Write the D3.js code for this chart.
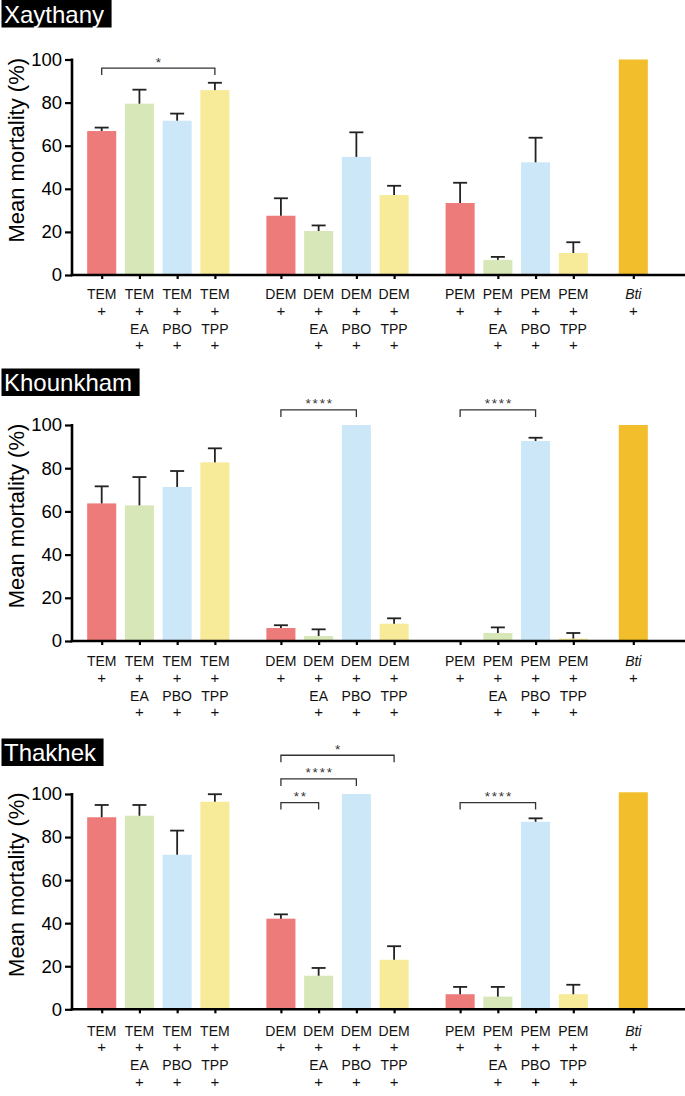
<!DOCTYPE html>
<html>
<head>
<meta charset="utf-8">
<script src="https://cdn.jsdelivr.net/npm/d3@7"></script>
<style>
  html, body { margin: 0; padding: 0; background: #fff; }
  svg { display: block; }
  text { font-family: "Liberation Sans", Arial, Helvetica, sans-serif; }
</style>
</head>
<body>
<svg id="chart" width="685" height="1096"></svg>
<script>
// ---------------- data ----------------
const categories = ["TEM","TEM+EA","TEM+PBO","TEM+TPP",
                    "DEM","DEM+EA","DEM+PBO","DEM+TPP",
                    "PEM","PEM+EA","PEM+PBO","PEM+TPP","Bti"];
const sites = ["Xaythany","Khounkham","Thakhek"];

const xaythanyMean = [66.8, 79.5, 71.6, 85.8, 27.5, 20.4, 54.8, 37.1, 33.4, 7.0, 52.3, 10.2, 100];
const xaythanyErr  = [1.6, 6.5, 3.3, 3.4, 8.1, 2.6, 11.4, 4.3, 9.4, 1.4, 11.4, 5.0, 0];

const khounkhamMean = [63.7, 62.8, 71.3, 82.7, 6.0, 2.3, 100, 8.0, 0, 3.7, 92.6, 1.1, 100];
const khounkhamErr  = [7.9, 13.1, 7.4, 6.5, 1.3, 3.1, 0, 2.5, 0, 2.6, 1.5, 2.6, 0];

const thakhekMean = [89.2, 89.9, 71.8, 96.4, 42.1, 15.6, 100, 23.0, 7.0, 5.9, 87.1, 7.0, 100.8];
const thakhekErr  = [5.7, 5.0, 11.2, 3.5, 2.0, 3.6, 0, 6.3, 3.4, 4.5, 1.6, 4.4, 0];

// significance brackets: [from, to, label, stacking level]
const xaythanyBrackets  = [["TEM","TEM+TPP","*",0]];
const khounkhamBrackets = [["DEM","DEM+PBO","****",1],["PEM","PEM+PBO","****",1]];
const thakhekBrackets   = [["DEM","DEM+EA","**",0],["DEM","DEM+PBO","****",1],
                           ["DEM","DEM+TPP","*",2],["PEM","PEM+PBO","****",0]];

const yTicks = [0, 20, 40, 60, 80, 100];
const yTitle = "Mean mortality (%)";

const panelData = [
  {site: sites[0], mean: xaythanyMean,  err: xaythanyErr,  brackets: xaythanyBrackets},
  {site: sites[1], mean: khounkhamMean, err: khounkhamErr, brackets: khounkhamBrackets},
  {site: sites[2], mean: thakhekMean,   err: thakhekErr,   brackets: thakhekBrackets}
];

// ---------------- layout ----------------
const layout = [
  {y100: 59.5, y0: 275,    titleBase: 22.5, labelOff: 24},
  {y100: 425,  y0: 641,    titleBase: 391,  labelOff: 25},
  {y100: 794,  y0: 1009.3, titleBase: 761,  labelOff: 26.5}
];

const colorByAdditive = {none: "#ED7B7A", EA: "#D7E7B7", PBO: "#CCE8F8", TPP: "#F7EA98", Bti: "#F2BE2B"};
const groupOrder = ["TEM","DEM","PEM","Bti"];
const groupGap = [0, 0.75, 0.75, 0.59];

// slot positions derived from group structure
const slots = {};
(function(){
  let s = -1, prevGroup = null;
  categories.forEach(c => {
    const g = c.split("+")[0];
    if (g !== prevGroup) { s += 1 + (prevGroup === null ? 0 : groupGap[groupOrder.indexOf(g)]); prevGroup = g; }
    else s += 1;
    slots[c] = s;
  });
})();
const maxSlot = d3.max(Object.values(slots));

const x = d3.scaleLinear().domain([0, maxSlot]).range([101.7, 633.3]);
const step = x(1) - x(0);
const barW = step * 0.77;
const axisX = 72;

function additive(c) {
  if (c === "Bti") return "Bti";
  const p = c.split("+");
  return p.length > 1 ? p[1] : "none";
}
function labelLines(c) {
  if (c === "Bti") return ["Bti", "+"];
  const p = c.split("+");
  return p.length > 1 ? [p[0], "+", p[1], "+"] : [p[0], "+"];
}

const svg = d3.select("#chart");
const font = '"Liberation Sans", Arial, Helvetica, sans-serif';

panelData.forEach((pd, pi) => {
  const L = layout[pi];
  const y = d3.scaleLinear().domain([0, 100]).range([L.y0, L.y100]);
  const g = svg.append("g");

  // title box
  const tt = g.append("text")
    .attr("x", 4).attr("y", L.titleBase)
    .attr("font-size", 24).attr("fill", "#fff")
    .text(pd.site);
  const tw = tt.node().getComputedTextLength();
  g.insert("rect", "text")
    .attr("x", 1.5).attr("y", Math.max(0, L.titleBase - 22.5))
    .attr("width", tw + 10).attr("height", L.titleBase - 22.5 < 0 ? L.titleBase + 5 : 27.5)
    .attr("fill", "#000");

  // bars
  const rows = categories.map((c, i) => ({c, v: pd.mean[i], e: pd.err[i]}));
  g.selectAll("rect.bar").data(rows.filter(d => d.v > 0)).join("rect")
    .attr("class", "bar")
    .attr("x", d => x(slots[d.c]) - barW / 2)
    .attr("width", barW)
    .attr("y", d => y(d.v))
    .attr("height", d => y(0) - y(d.v))
    .attr("fill", d => colorByAdditive[additive(d.c)]);

  // error bars (upper only)
  const eb = g.selectAll("g.err").data(rows.filter(d => d.e > 0)).join("g").attr("class", "err");
  eb.append("line")
    .attr("x1", d => x(slots[d.c])).attr("x2", d => x(slots[d.c]))
    .attr("y1", d => y(d.v)).attr("y2", d => y(d.v + d.e))
    .attr("stroke", "#222").attr("stroke-width", 1.8);
  eb.append("line")
    .attr("x1", d => x(slots[d.c]) - 7).attr("x2", d => x(slots[d.c]) + 7)
    .attr("y1", d => y(d.v + d.e)).attr("y2", d => y(d.v + d.e))
    .attr("stroke", "#222").attr("stroke-width", 1.8);

  // y axis
  const yAxis = d3.axisLeft(y).tickValues(yTicks).tickSize(7).tickPadding(3);
  const ya = g.append("g").attr("transform", `translate(${axisX},0)`).call(yAxis);
  ya.select(".domain").remove();
  ya.selectAll(".tick line").attr("stroke", "#000").attr("stroke-width", 2.2);
  ya.selectAll(".tick text").attr("font-size", 18.5).attr("font-family", font).attr("fill", "#000");
  g.append("line")
    .attr("x1", axisX).attr("x2", axisX)
    .attr("y1", y(100) - 1).attr("y2", y(0) + 1.2)
    .attr("stroke", "#000").attr("stroke-width", 2.6);

  // x axis line and ticks
  const xa = d3.axisBottom(x).tickValues(categories.map(c => slots[c])).tickSize(4).tickFormat("");
  const xg = g.append("g").attr("transform", `translate(0,${y(0)})`).call(xa);
  xg.select(".domain").remove();
  xg.selectAll(".tick line").attr("stroke", "#000").attr("stroke-width", 2.2);
  g.append("line")
    .attr("x1", axisX - 1.3).attr("x2", 685)
    .attr("y1", y(0)).attr("y2", y(0))
    .attr("stroke", "#000").attr("stroke-width", 2.6);

  // x labels
  const lineOff = [0, 16.5, 34.5, 51];
  categories.forEach(c => {
    const t = g.append("text")
      .attr("x", x(slots[c])).attr("y", y(0) + L.labelOff)
      .attr("text-anchor", "middle").attr("font-size", 14).attr("fill", "#111");
    labelLines(c).forEach((ln, k) => {
      t.append("tspan")
        .attr("x", x(slots[c]))
        .attr("y", y(0) + L.labelOff + lineOff[k])
        .attr("font-size", ln === "+" ? 15 : 14)
        .attr("font-style", (c === "Bti" && k === 0) ? "italic" : "normal")
        .text(ln);
    });
  });

  // y title
  g.append("text")
    .attr("transform", `translate(23.5,${(L.y0 + L.y100) / 2 - 17}) rotate(-90)`)
    .attr("text-anchor", "middle").attr("font-size", 22).attr("fill", "#000")
    .text(yTitle);

  // brackets
  pd.brackets.forEach(b => {
    const x1 = x(slots[b[0]]), x2 = x(slots[b[1]]);
    const by = y(96 + 11 * b[3]);
    g.append("path")
      .attr("d", `M${x1},${by + 7}V${by}H${x2}V${by + 7}`)
      .attr("fill", "none").attr("stroke", "#333").attr("stroke-width", 1.3);
    g.append("text")
      .attr("x", (x1 + x2) / 2 + 1).attr("y", by - 1.5)
      .attr("text-anchor", "middle").attr("font-size", 13.5)
      .attr("letter-spacing", 1.8).attr("fill", "#333")
      .text(b[2]);
  });
});
</script>
</body>
</html>
